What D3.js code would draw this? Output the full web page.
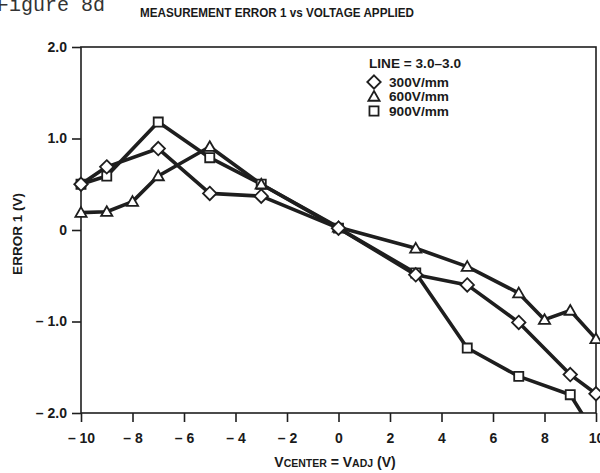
<!DOCTYPE html>
<html>
<head>
<meta charset="utf-8">
<script src="https://cdn.jsdelivr.net/npm/d3@7/dist/d3.min.js"></script>
<style>
  html, body { margin: 0; padding: 0; background: #fff; }
  svg { display: block; }
  text { font-family: "Liberation Sans", Arial, Helvetica, sans-serif; font-weight: bold; fill: #1a1a1a; }
</style>
</head>
<body>
<svg id="chart" width="600" height="473"></svg>
<script>
// Applied centre voltage (V)
const xValues300 = [-10, -9, -7, -5, -3, 0, 3, 5, 7, 9, 10];
const err300     = [0.50, 0.69, 0.89, 0.40, 0.37, 0.02, -0.49, -0.60, -1.01, -1.58, -1.79];

const xValues600 = [-10, -9, -8, -7, -5, -3, 0, 3, 5, 7, 8, 9, 10];
const err600     = [0.19, 0.20, 0.31, 0.59, 0.91, 0.50, 0.03, -0.20, -0.40, -0.69, -0.98, -0.88, -1.19];

const xValues900 = [-10, -9, -7, -5, -3, 0, 3, 5, 7, 9, 10];
const err900     = [0.50, 0.59, 1.18, 0.79, 0.50, 0.02, -0.47, -1.29, -1.60, -1.80, -2.25];

const xTicks = [-10, -8, -6, -4, -2, 0, 2, 4, 6, 8, 10];
const yTicks = [-2, -1, 0, 1, 2];
const seriesLabels = ["300V/mm", "600V/mm", "900V/mm"];
const seriesSymbols = ["diamond", "triangle", "square"];

const svg = d3.select("#chart");
const plotLeft = 81, plotRight = 596, plotTop = 47, plotBottom = 413;

const x = d3.scaleLinear().domain([-10, 10]).range([plotLeft, plotRight]);
const y = d3.scaleLinear().domain([-2, 2]).range([plotBottom, plotTop]);

const ink = "#1e1e1e";

// Page caption
svg.append("text")
  .attr("x", -3).attr("y", 11)
  .style("font-family", "'Liberation Mono', 'Courier New', monospace")
  .style("font-weight", "normal")
  .style("font-size", "20px")
  .style("fill", "#333")
  .text("Figure 8d");

// Chart title
svg.append("text")
  .attr("x", 277).attr("y", 17)
  .attr("text-anchor", "middle")
  .attr("textLength", 274)
  .attr("lengthAdjust", "spacingAndGlyphs")
  .style("font-size", "12px")
  .text("MEASUREMENT ERROR 1 vs VOLTAGE APPLIED");

// Frame
svg.append("rect")
  .attr("x", plotLeft).attr("y", plotTop)
  .attr("width", plotRight - plotLeft).attr("height", plotBottom - plotTop)
  .attr("fill", "none").attr("stroke", ink).attr("stroke-width", 1.6);

// Axes
const fmtX = d => d < 0 ? "\u2013 " + Math.abs(d) : String(d);
const fmtY = d => d === 0 ? "0" : (d < 0 ? "\u2013 " + Math.abs(d).toFixed(1) : d.toFixed(1));

const xAxis = svg.append("g")
  .attr("transform", `translate(0,${plotBottom})`)
  .call(d3.axisBottom(x).tickValues(xTicks).tickFormat(fmtX).tickSize(9).tickPadding(11));
const yAxis = svg.append("g")
  .attr("transform", `translate(${plotLeft},0)`)
  .call(d3.axisLeft(y).tickValues(yTicks).tickFormat(fmtY).tickSize(9).tickPadding(5));

[xAxis, yAxis].forEach(g => {
  g.attr("font-size", null).attr("font-family", null);
  g.select(".domain").remove();
  g.selectAll(".tick line").attr("stroke", ink).attr("stroke-width", 1.6);
  g.selectAll(".tick text")
    .style("font-size", "14px")
    .style("font-family", "'Liberation Sans', Arial, sans-serif")
    .style("font-weight", "bold")
    .attr("fill", ink);
});

// Axis titles
const xt = svg.append("text")
  .attr("x", 335).attr("y", 467)
  .attr("text-anchor", "middle")
  .style("font-size", "14px");
xt.append("tspan").text("V");
xt.append("tspan").style("font-size", "10.5px").text("CENTER");
xt.append("tspan").text(" = V");
xt.append("tspan").style("font-size", "10.5px").text("ADJ");
xt.append("tspan").text(" (V)");

svg.append("text")
  .attr("transform", "translate(22,234) rotate(-90)")
  .attr("text-anchor", "middle")
  .style("font-size", "13.5px")
  .text("ERROR 1 (V)");

// Plot clip (clipped only at the bottom, where a trace runs off scale)
svg.append("clipPath").attr("id", "plot-clip")
  .append("rect")
  .attr("x", 0).attr("y", 0)
  .attr("width", 600).attr("height", plotBottom);

const symbolPath = {
  diamond: d3.symbol().type(d3.symbolDiamond2).size(115),
  triangle: d3.symbol().type(d3.symbolTriangle2).size(90),
  square: d3.symbol().type(d3.symbolSquare2).size(105)
};

const series = [
  { xs: xValues900, ys: err900, sym: "square" },
  { xs: xValues600, ys: err600, sym: "triangle" },
  { xs: xValues300, ys: err300, sym: "diamond" }
];

const plot = svg.append("g").attr("clip-path", "url(#plot-clip)");
const line = d3.line().x(d => x(d[0])).y(d => y(d[1]));

series.forEach(s => {
  const pts = s.xs.map((v, i) => [v, s.ys[i]]);
  plot.append("path")
    .attr("d", line(pts))
    .attr("fill", "none")
    .attr("stroke", ink)
    .attr("stroke-width", 3.6)
    .attr("stroke-linejoin", "round");
});

series.forEach(s => {
  const pts = s.xs.map((v, i) => [v, s.ys[i]]).filter(p => p[1] >= -2 && p[1] <= 2);
  plot.selectAll(null)
    .data(pts)
    .join("path")
    .attr("transform", d => `translate(${x(d[0])},${y(d[1]) + (s.sym === "triangle" ? 1 : 0)})`)
    .attr("d", symbolPath[s.sym]())
    .attr("fill", "#fff")
    .attr("stroke", ink)
    .attr("stroke-width", 1.8);
});

// Legend
const legend = svg.append("g");
legend.append("text")
  .attr("x", 369).attr("y", 68)
  .attr("textLength", 92)
  .attr("lengthAdjust", "spacingAndGlyphs")
  .style("font-size", "12.5px")
  .text("LINE = 3.0\u20133.0");
seriesLabels.forEach((lab, i) => {
  const cy = 82 + i * 14.5;
  legend.append("path")
    .attr("transform", `translate(374,${cy + (seriesSymbols[i] === "triangle" ? 1 : 0)})`)
    .attr("d", symbolPath[seriesSymbols[i]]())
    .attr("fill", "#fff")
    .attr("stroke", ink)
    .attr("stroke-width", 1.8);
  legend.append("text")
    .attr("x", 389).attr("y", cy + 4.5)
    .attr("textLength", 60)
    .attr("lengthAdjust", "spacingAndGlyphs")
    .style("font-size", "12.5px")
    .text(lab);
});
</script>
</body>
</html>
